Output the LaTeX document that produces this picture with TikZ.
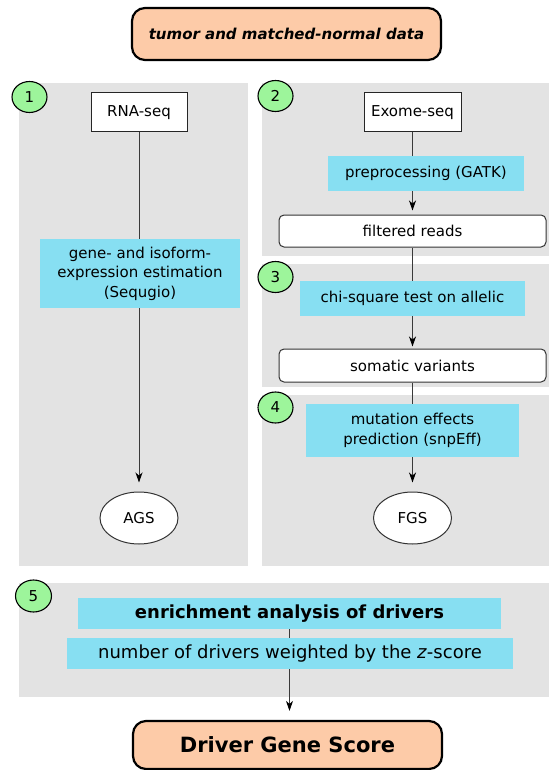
\documentclass[tikz,border=0pt]{standalone}
\usepackage{fontspec}
\setmainfont{DejaVu Sans}
\usetikzlibrary{arrows.meta,shapes.geometric}
\definecolor{peach}{HTML}{FDCBA8}
\definecolor{cyanbox}{HTML}{87DFF2}
\definecolor{greenc}{HTML}{9DF59B}
\definecolor{panelgray}{HTML}{E3E3E3}
\definecolor{linegray}{HTML}{3A3A3A}
\pgfdeclarelayer{panels}
\pgfdeclarelayer{conn}
\pgfsetlayers{panels,conn,main}
\tikzset{
  panel/.style={fill=panelgray, draw=none},
  endbox/.style={draw=black, line width=2.2pt, fill=peach, rounded corners=13pt, inner sep=0pt},
  numc/.style={ellipse, draw=black, line width=1.1pt, fill=greenc, inner sep=0pt, font=\fontsize{15}{17}\selectfont},
  srcbox/.style={rectangle, draw=black!85, line width=1pt, fill=white, inner sep=0pt, font=\fontsize{15}{18}\selectfont},
  procbox/.style={rectangle, fill=cyanbox, draw=none, inner sep=0pt, align=center, font=\fontsize{15}{19.5}\selectfont},
  databox/.style={rectangle, rounded corners=5pt, draw=black!80, line width=1pt, fill=white, inner sep=0pt, font=\fontsize{15}{18}\selectfont},
  result/.style={ellipse, draw=black!80, line width=1pt, fill=white, inner sep=0pt, font=\fontsize{15}{18}\selectfont},
  conn/.style={draw=linegray, line width=1pt, -{Stealth[length=10pt,width=7pt,inset=3pt,color=black]}},
}
\begin{document}
\begin{tikzpicture}[x=1pt,y=-1pt]
\useasboundingbox (0,0) rectangle (549,770);
\begin{pgfonlayer}{panels}
\fill[white] (0,0) rectangle (549,770);
\fill[panel] (19,83) rectangle (248,566);
\fill[panel] (262,83) rectangle (549,256);
\fill[panel] (262,264) rectangle (549,387);
\fill[panel] (262,395) rectangle (549,566);
\fill[panel] (19,583) rectangle (549,697);
\end{pgfonlayer}

\node[endbox, minimum width=309pt, minimum height=52pt, font=\fontsize{15}{18}\selectfont\bfseries\itshape] (top) at (286.5,34) {tumor and matched-normal data};

\node[numc, minimum width=35pt, minimum height=31pt] (c1) at (29.5,97) {1};
\node[numc, minimum width=35pt, minimum height=31pt] (c2) at (275.5,96) {2};
\node[numc, minimum width=35pt, minimum height=31pt] (c3) at (275.5,277) {3};
\node[numc, minimum width=35pt, minimum height=31pt] (c4) at (275.5,407.5) {4};
\node[numc, minimum width=36pt, minimum height=32pt] (c5) at (33.5,596) {5};

\node[srcbox, minimum width=96pt, minimum height=39pt] (rna) at (139,112.5) {RNA-seq};
\node[srcbox, minimum width=97pt, minimum height=39pt] (exome) at (412.5,112.5) {Exome-seq};

\node[procbox, minimum width=200pt, minimum height=69pt] (gene) at (140,273.5) {gene- and isoform-\\expression estimation\\(Sequgio)};
\node[procbox, minimum width=196pt, minimum height=35pt] (prep) at (426,173.5) {preprocessing (GATK)};
\node[databox, minimum width=267pt, minimum height=32pt] (filt) at (412.5,231) {filtered reads};
\node[procbox, minimum width=225pt, minimum height=35pt] (chi) at (412.5,298.5) {chi-square test on allelic};
\node[databox, minimum width=267pt, minimum height=33pt] (som) at (412.5,365.5) {somatic variants};
\node[procbox, minimum width=213pt, minimum height=53pt] (mut) at (412.5,430.5) {mutation effects\\prediction (snpEff)};

\node[result, minimum width=78pt, minimum height=52pt] (ags) at (139,518) {AGS};
\node[result, minimum width=78pt, minimum height=52pt] (fgs) at (412.5,518) {FGS};

\node[procbox, minimum width=423pt, minimum height=31pt, font=\fontsize{18}{21}\selectfont\bfseries] (enr) at (289.5,613.5) {enrichment analysis of drivers};
\node[procbox, minimum width=446pt, minimum height=31pt, font=\fontsize{18}{21}\selectfont] (num) at (290,653.5) {number of drivers weighted by the \textit{z}-score};

\node[endbox, minimum width=309pt, minimum height=48pt, font=\fontsize{21}{24}\selectfont\bfseries] (dgs) at (287.5,745) {Driver Gene Score};

\begin{pgfonlayer}{conn}
\draw[conn, shorten >=9pt] (rna.south) -- (ags.north);
\draw[conn, shorten >=4pt] (exome.south) -- (filt.north);
\draw[conn, shorten >=2pt] (filt.south) -- (som.north);
\draw[conn, shorten >=9pt] (som.south) -- (fgs.north);
\draw[conn, shorten >=9pt] (enr.south) -- (enr.south |- dgs.north);
\end{pgfonlayer}
\end{tikzpicture}
\end{document}
